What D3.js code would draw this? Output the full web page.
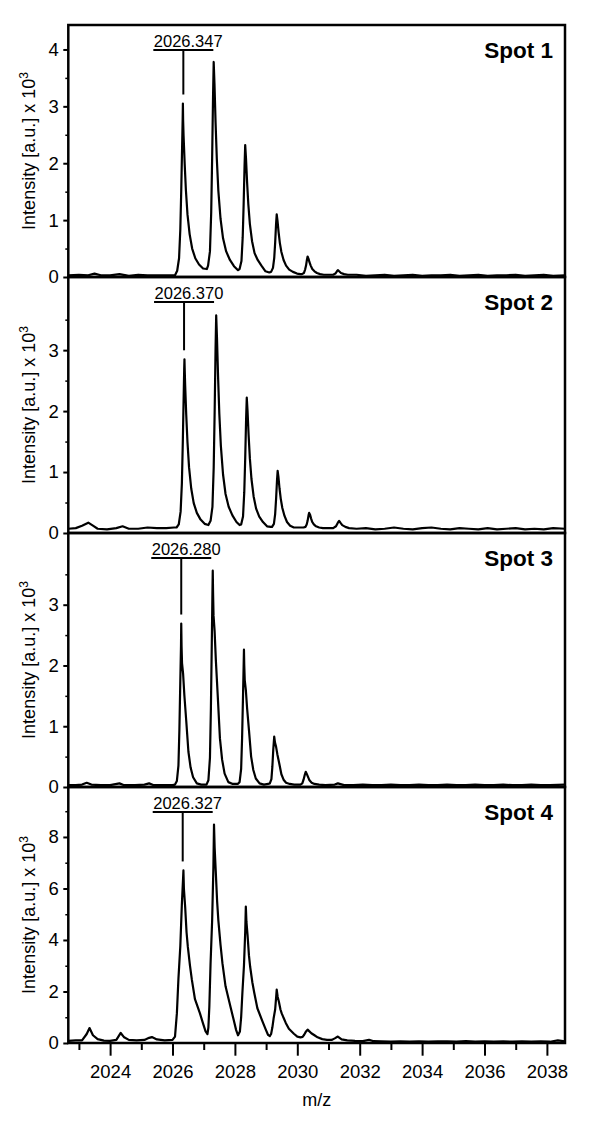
<!DOCTYPE html>
<html>
<head>
<meta charset="utf-8">
<script src="https://cdn.jsdelivr.net/npm/d3@7"></script>
<style>
  body { margin: 0; background: #fff; }
  svg { display: block; }
  svg text { font-family: "Liberation Sans", Arial, sans-serif; }
</style>
</head>
<body>
<div id="chart"></div>
<script>
// MALDI spectra of four spots, intensity in units of 10^3, pairs are [m/z, intensity]
const spotNames = ["Spot 1", "Spot 2", "Spot 3", "Spot 4"];
const peakLabels = ["2026.347", "2026.370", "2026.280", "2026.327"];
const peakMz = [2026.347, 2026.370, 2026.280, 2026.327];

const yMax = [4.43, 4.2, 4.18, 9.94];
const yTicks = [[0, 1, 2, 3, 4], [0, 1, 2, 3], [0, 1, 2, 3], [0, 2, 4, 6, 8]];
const yMinorTicks = [[0.5, 1.5, 2.5, 3.5], [0.5, 1.5, 2.5, 3.5], [0.5, 1.5, 2.5, 3.5], [1, 3, 5, 7, 9]];

const xTicks = [2024, 2026, 2028, 2030, 2032, 2034, 2036, 2038];
const xMinorTicks = [2023, 2025, 2027, 2029, 2031, 2033, 2035, 2037];

const spot1 = [
  [2022.66, 0.03], [2023.0, 0.04], [2023.3, 0.03], [2023.5, 0.06], [2023.7, 0.03], [2024.0, 0.03],
  [2024.3, 0.05], [2024.6, 0.02], [2024.9, 0.04], [2025.2, 0.03], [2025.5, 0.03], [2025.8, 0.03],
  [2026.0, 0.03], [2026.08, 0.03], [2026.15, 0.11], [2026.21, 0.33], [2026.25, 0.83], [2026.28, 1.52],
  [2026.31, 2.35], [2026.325, 2.76], [2026.333, 3.05], [2026.34, 2.76], [2026.355, 2.48], [2026.39, 1.99],
  [2026.43, 1.52], [2026.48, 1.1], [2026.55, 0.75], [2026.63, 0.5], [2026.73, 0.33], [2026.85, 0.22],
  [2026.98, 0.15], [2027.1, 0.14], [2027.14, 0.2], [2027.2, 0.45], [2027.24, 1.13], [2027.27, 2.08],
  [2027.3, 3.2], [2027.32, 3.78], [2027.345, 3.4], [2027.38, 2.72], [2027.42, 2.08], [2027.47, 1.51],
  [2027.54, 1.02], [2027.62, 0.68], [2027.72, 0.45], [2027.84, 0.3], [2027.97, 0.19], [2028.1, 0.12],
  [2028.15, 0.14], [2028.21, 0.28], [2028.25, 0.7], [2028.28, 1.28], [2028.31, 1.97], [2028.33, 2.32],
  [2028.355, 2.09], [2028.39, 1.67], [2028.43, 1.28], [2028.48, 0.93], [2028.55, 0.63], [2028.63, 0.42],
  [2028.73, 0.3], [2028.85, 0.2], [2028.98, 0.1], [2029.1, 0.08], [2029.16, 0.09], [2029.22, 0.16],
  [2029.26, 0.33], [2029.29, 0.6], [2029.32, 0.94], [2029.34, 1.1], [2029.365, 0.99], [2029.4, 0.79],
  [2029.44, 0.6], [2029.49, 0.44], [2029.56, 0.3], [2029.64, 0.2], [2029.74, 0.13], [2029.86, 0.09],
  [2029.99, 0.06], [2030.1, 0.05], [2030.15, 0.05], [2030.21, 0.07], [2030.25, 0.13], [2030.28, 0.2],
  [2030.31, 0.31], [2030.33, 0.36], [2030.36, 0.32], [2030.39, 0.26], [2030.43, 0.2], [2030.48, 0.14],
  [2030.55, 0.1], [2030.63, 0.07], [2030.73, 0.05], [2030.85, 0.04], [2031.15, 0.04], [2031.22, 0.06],
  [2031.27, 0.1], [2031.3, 0.12], [2031.34, 0.1], [2031.4, 0.07], [2031.5, 0.05], [2031.62, 0.04],
  [2031.9, 0.04], [2032.2, 0.02], [2032.5, 0.03], [2032.8, 0.04], [2033.1, 0.02], [2033.4, 0.03],
  [2033.7, 0.04], [2034.0, 0.02], [2034.3, 0.03], [2034.6, 0.03], [2034.9, 0.04], [2035.2, 0.02],
  [2035.5, 0.03], [2035.8, 0.04], [2036.1, 0.02], [2036.4, 0.03], [2036.7, 0.03], [2037.0, 0.04],
  [2037.3, 0.02], [2037.6, 0.03], [2037.9, 0.04], [2038.2, 0.02], [2038.58, 0.03]
];

const spot2 = [
  [2022.66, 0.07], [2022.9, 0.08], [2023.1, 0.12], [2023.3, 0.17], [2023.45, 0.12], [2023.6, 0.07],
  [2023.9, 0.06], [2024.2, 0.08], [2024.4, 0.11], [2024.6, 0.07], [2024.9, 0.07], [2025.2, 0.09],
  [2025.5, 0.08], [2025.8, 0.08], [2026.05, 0.09], [2026.13, 0.09], [2026.2, 0.14], [2026.26, 0.35],
  [2026.3, 0.81], [2026.33, 1.49], [2026.36, 2.3], [2026.375, 2.7], [2026.383, 2.85], [2026.39, 2.7],
  [2026.405, 2.43], [2026.44, 1.94], [2026.48, 1.49], [2026.53, 1.08], [2026.6, 0.73], [2026.68, 0.49],
  [2026.78, 0.33], [2026.9, 0.22], [2027.03, 0.15], [2027.15, 0.13], [2027.22, 0.2], [2027.28, 0.43],
  [2027.32, 1.07], [2027.35, 1.96], [2027.38, 3.03], [2027.4, 3.57], [2027.425, 3.21], [2027.46, 2.57],
  [2027.5, 1.96], [2027.55, 1.43], [2027.62, 0.96], [2027.7, 0.64], [2027.8, 0.43], [2027.92, 0.29],
  [2028.05, 0.18], [2028.15, 0.13], [2028.2, 0.14], [2028.26, 0.27], [2028.3, 0.67], [2028.33, 1.22],
  [2028.36, 1.89], [2028.38, 2.22], [2028.405, 2.0], [2028.44, 1.6], [2028.48, 1.22], [2028.53, 0.89],
  [2028.6, 0.6], [2028.68, 0.4], [2028.78, 0.27], [2028.9, 0.18], [2029.03, 0.11], [2029.15, 0.1],
  [2029.19, 0.1], [2029.25, 0.15], [2029.29, 0.31], [2029.32, 0.56], [2029.35, 0.87], [2029.37, 1.02],
  [2029.395, 0.92], [2029.43, 0.73], [2029.47, 0.56], [2029.52, 0.41], [2029.59, 0.28], [2029.67, 0.18],
  [2029.77, 0.12], [2029.89, 0.09], [2030.02, 0.09], [2030.13, 0.09], [2030.2, 0.09], [2030.26, 0.1],
  [2030.3, 0.14], [2030.33, 0.2], [2030.36, 0.29], [2030.38, 0.33], [2030.41, 0.3], [2030.44, 0.24],
  [2030.48, 0.18], [2030.53, 0.14], [2030.6, 0.11], [2030.7, 0.09], [2030.82, 0.08], [2030.95, 0.08],
  [2031.15, 0.08], [2031.24, 0.11], [2031.3, 0.17], [2031.34, 0.2], [2031.38, 0.17], [2031.44, 0.13],
  [2031.54, 0.1], [2031.66, 0.08], [2031.9, 0.07], [2032.2, 0.08], [2032.5, 0.06], [2032.8, 0.07],
  [2033.1, 0.09], [2033.4, 0.07], [2033.7, 0.06], [2034.0, 0.08], [2034.3, 0.09], [2034.6, 0.07],
  [2034.9, 0.06], [2035.2, 0.08], [2035.5, 0.07], [2035.8, 0.06], [2036.1, 0.08], [2036.4, 0.06],
  [2036.7, 0.07], [2037.0, 0.08], [2037.3, 0.06], [2037.6, 0.07], [2037.9, 0.06], [2038.2, 0.08],
  [2038.58, 0.07]
];

const spot3 = [
  [2022.66, 0.03], [2022.9, 0.03], [2023.1, 0.04], [2023.25, 0.07], [2023.4, 0.04], [2023.7, 0.03],
  [2024.0, 0.03], [2024.3, 0.06], [2024.45, 0.03], [2024.8, 0.03], [2025.1, 0.04], [2025.25, 0.06],
  [2025.4, 0.03], [2025.7, 0.03], [2026.0, 0.03], [2026.08, 0.04], [2026.14, 0.1], [2026.19, 0.35],
  [2026.22, 0.93], [2026.25, 1.74], [2026.272, 2.32], [2026.28, 2.69], [2026.29, 2.32], [2026.305, 2.04],
  [2026.34, 1.86], [2026.38, 1.51], [2026.44, 1.09], [2026.51, 0.58], [2026.58, 0.32], [2026.66, 0.16],
  [2026.78, 0.06], [2026.92, 0.04], [2027.05, 0.04], [2027.09, 0.04], [2027.15, 0.11], [2027.2, 0.48],
  [2027.23, 1.28], [2027.26, 2.4], [2027.28, 3.2], [2027.29, 3.56], [2027.3, 3.2], [2027.315, 2.82],
  [2027.35, 2.56], [2027.39, 2.08], [2027.45, 1.5], [2027.52, 0.8], [2027.59, 0.45], [2027.67, 0.22],
  [2027.79, 0.08], [2027.93, 0.05], [2028.08, 0.05], [2028.09, 0.05], [2028.15, 0.08], [2028.2, 0.3],
  [2028.23, 0.8], [2028.26, 1.5], [2028.28, 2.0], [2028.29, 2.26], [2028.3, 2.0], [2028.315, 1.76],
  [2028.35, 1.6], [2028.39, 1.3], [2028.45, 0.94], [2028.52, 0.5], [2028.59, 0.28], [2028.67, 0.14],
  [2028.79, 0.06], [2028.93, 0.04], [2029.06, 0.05], [2029.12, 0.06], [2029.17, 0.13], [2029.2, 0.33],
  [2029.23, 0.62], [2029.26, 0.83], [2029.285, 0.73], [2029.32, 0.66], [2029.36, 0.54], [2029.42, 0.39],
  [2029.49, 0.21], [2029.56, 0.12], [2029.64, 0.07], [2029.76, 0.05], [2029.9, 0.04], [2030.06, 0.04],
  [2030.1, 0.04], [2030.16, 0.06], [2030.2, 0.12], [2030.24, 0.2], [2030.27, 0.25], [2030.3, 0.22],
  [2030.34, 0.17], [2030.39, 0.11], [2030.46, 0.07], [2030.55, 0.05], [2030.7, 0.04], [2030.9, 0.03],
  [2031.2, 0.04], [2031.3, 0.06], [2031.5, 0.03], [2031.8, 0.03], [2032.1, 0.04], [2032.4, 0.03],
  [2032.7, 0.03], [2033.0, 0.04], [2033.3, 0.03], [2033.6, 0.03], [2033.9, 0.04], [2034.2, 0.03],
  [2034.5, 0.03], [2034.8, 0.04], [2035.1, 0.03], [2035.4, 0.03], [2035.7, 0.04], [2036.0, 0.03],
  [2036.3, 0.03], [2036.6, 0.04], [2036.9, 0.03], [2037.2, 0.03], [2037.5, 0.04], [2037.8, 0.03],
  [2038.1, 0.03], [2038.58, 0.04]
];

const spot4 = [
  [2022.66, 0.08], [2022.9, 0.1], [2023.1, 0.1], [2023.25, 0.35], [2023.34, 0.58], [2023.45, 0.3],
  [2023.6, 0.15], [2023.8, 0.09], [2024.0, 0.08], [2024.2, 0.12], [2024.34, 0.39], [2024.45, 0.22],
  [2024.6, 0.12], [2024.85, 0.1], [2025.1, 0.12], [2025.25, 0.2], [2025.34, 0.23], [2025.5, 0.14],
  [2025.75, 0.1], [2026.0, 0.12], [2026.08, 0.25], [2026.14, 1.15], [2026.19, 2.5], [2026.25, 3.75],
  [2026.3, 5.4], [2026.335, 6.3], [2026.35, 6.7], [2026.365, 6.0], [2026.405, 5.3], [2026.45, 4.3],
  [2026.49, 3.75], [2026.56, 3.0], [2026.62, 2.46], [2026.72, 1.7], [2026.88, 1.15], [2026.98, 0.75],
  [2027.06, 0.45], [2027.12, 0.35], [2027.15, 0.6], [2027.18, 1.4], [2027.22, 3.1], [2027.27, 4.75],
  [2027.31, 6.8], [2027.33, 8.48], [2027.35, 7.6], [2027.385, 6.7], [2027.43, 5.5], [2027.47, 4.75],
  [2027.54, 3.8], [2027.6, 3.1], [2027.7, 2.2], [2027.86, 1.4], [2027.96, 0.9], [2028.04, 0.5],
  [2028.1, 0.3], [2028.16, 0.45], [2028.2, 1.0], [2028.24, 1.95], [2028.29, 3.0], [2028.33, 4.3],
  [2028.35, 5.3], [2028.37, 4.7], [2028.405, 4.2], [2028.45, 3.4], [2028.49, 2.95], [2028.56, 2.35],
  [2028.62, 1.95], [2028.72, 1.35], [2028.88, 0.85], [2028.98, 0.55], [2029.06, 0.32], [2029.12, 0.27],
  [2029.16, 0.35], [2029.2, 0.6], [2029.24, 0.95], [2029.29, 1.3], [2029.32, 1.75], [2029.34, 2.07],
  [2029.37, 1.8], [2029.41, 1.6], [2029.46, 1.3], [2029.5, 1.15], [2029.57, 0.95], [2029.63, 0.78],
  [2029.73, 0.55], [2029.89, 0.36], [2030.0, 0.25], [2030.1, 0.22], [2030.17, 0.24], [2030.22, 0.32],
  [2030.28, 0.45], [2030.33, 0.52], [2030.38, 0.46], [2030.45, 0.38], [2030.55, 0.3], [2030.65, 0.22],
  [2030.8, 0.15], [2030.95, 0.12], [2031.1, 0.12], [2031.2, 0.18], [2031.3, 0.25], [2031.42, 0.14],
  [2031.6, 0.1], [2031.85, 0.08], [2032.1, 0.07], [2032.3, 0.12], [2032.45, 0.07], [2032.7, 0.06],
  [2033.0, 0.05], [2033.3, 0.06], [2033.6, 0.05], [2033.9, 0.06], [2034.2, 0.05], [2034.5, 0.06],
  [2034.8, 0.06], [2035.1, 0.05], [2035.4, 0.07], [2035.7, 0.05], [2036.0, 0.06], [2036.3, 0.05],
  [2036.6, 0.06], [2036.9, 0.05], [2037.2, 0.06], [2037.5, 0.05], [2037.8, 0.06], [2038.1, 0.05],
  [2038.35, 0.1], [2038.58, 0.06]
];

const spectra = [spot1, spot2, spot3, spot4];

// layout
const width = 600, height = 1127;
const left = 68.3, right = 565;
const panelTop = [25, 277, 533, 787];
const panelBottom = [277, 533, 787, 1043];

const svg = d3.select("#chart").append("svg")
  .attr("width", width)
  .attr("height", height);

const x = d3.scaleLinear().domain([2022.66, 2038.58]).range([left, right]);

svg.append("defs").selectAll("clipPath")
  .data(spectra)
  .join("clipPath")
    .attr("id", (d, i) => "clip" + i)
  .append("rect")
    .attr("x", left)
    .attr("y", (d, i) => panelTop[i])
    .attr("width", right - left)
    .attr("height", (d, i) => panelBottom[i] - panelTop[i]);

spectra.forEach((data, i) => {
  const y = d3.scaleLinear().domain([0, yMax[i]]).range([panelBottom[i], panelTop[i]]);
  const g = svg.append("g");

  // spectrum trace
  const line = d3.line().x(d => x(d[0])).y(d => y(d[1]));
  g.append("path")
    .datum(data)
    .attr("clip-path", "url(#clip" + i + ")")
    .attr("fill", "none")
    .attr("stroke", "#000")
    .attr("stroke-width", 2.2)
    .attr("stroke-linejoin", "round")
    .attr("d", line);

  // left axis, major + minor
  const axis = g.append("g")
    .attr("transform", `translate(${left},0)`)
    .call(d3.axisLeft(y).tickValues(yTicks[i]).tickSize(5).tickPadding(4.5).tickFormat(d3.format("d")));
  axis.attr("font-family", null).attr("font-size", null);
  axis.select(".domain").remove();
  axis.selectAll("line").attr("stroke-width", 2);
  axis.selectAll("text").attr("font-size", 18.5).attr("fill", "#000");

  const minor = g.append("g")
    .attr("transform", `translate(${left},0)`)
    .call(d3.axisLeft(y).tickValues(yMinorTicks[i]).tickSize(3).tickFormat(""));
  minor.select(".domain").remove();
  minor.selectAll("line").attr("stroke-width", 1.5);

  // frame
  g.append("rect")
    .attr("x", left)
    .attr("y", panelTop[i])
    .attr("width", right - left)
    .attr("height", panelBottom[i] - panelTop[i])
    .attr("fill", "none")
    .attr("stroke", "#000")
    .attr("stroke-width", 2.5);

  // y title
  const midY = (panelTop[i] + panelBottom[i]) / 2;
  const title = g.append("text")
    .attr("transform", `translate(35,${midY}) rotate(-90)`)
    .attr("text-anchor", "middle")
    .attr("font-size", 18)
    .attr("fill", "#000");
  title.append("tspan").text("Intensity [a.u.] x 10");
  title.append("tspan").attr("font-size", 12).attr("dy", -7).text("3");

  // spot name
  g.append("text")
    .attr("x", 553)
    .attr("y", panelTop[i] + 33)
    .attr("text-anchor", "end")
    .attr("font-size", 22.5)
    .attr("font-weight", "bold")
    .attr("fill", "#000")
    .text(spotNames[i]);

  // peak annotation
  const px = x(peakMz[i]);
  const near = data.filter(d => Math.abs(d[0] - peakMz[i]) < 0.1);
  const peakTop = y(d3.max(near, d => d[1]));
  const barY = panelTop[i] + 25;
  g.append("line")
    .attr("x1", px - 30).attr("x2", px + 30)
    .attr("y1", barY).attr("y2", barY)
    .attr("stroke", "#000").attr("stroke-width", 2);
  g.append("line")
    .attr("x1", px).attr("x2", px)
    .attr("y1", barY).attr("y2", peakTop - 9)
    .attr("stroke", "#000").attr("stroke-width", 2);
  g.append("text")
    .attr("x", px - 29.5)
    .attr("y", barY - 3)
    .attr("font-size", 16.5)
    .attr("fill", "#000")
    .text(peakLabels[i]);
});

// bottom x axis
const last = panelBottom[3];
const xAxis = svg.append("g")
  .attr("transform", `translate(0,${last})`)
  .call(d3.axisBottom(x).tickValues(xTicks).tickSize(12.7).tickPadding(9).tickFormat(d3.format("d")));
xAxis.attr("font-family", null).attr("font-size", null);
xAxis.select(".domain").remove();
xAxis.selectAll("line").attr("stroke-width", 2);
xAxis.selectAll("text").attr("font-size", 18.5).attr("fill", "#000");

const xMinor = svg.append("g")
  .attr("transform", `translate(0,${last})`)
  .call(d3.axisBottom(x).tickValues(xMinorTicks).tickSize(7).tickFormat(""));
xMinor.select(".domain").remove();
xMinor.selectAll("line").attr("stroke-width", 2);

svg.append("text")
  .attr("x", (left + right) / 2)
  .attr("y", 1106)
  .attr("text-anchor", "middle")
  .attr("font-size", 18)
  .attr("fill", "#000")
  .text("m/z");
</script>
</body>
</html>
